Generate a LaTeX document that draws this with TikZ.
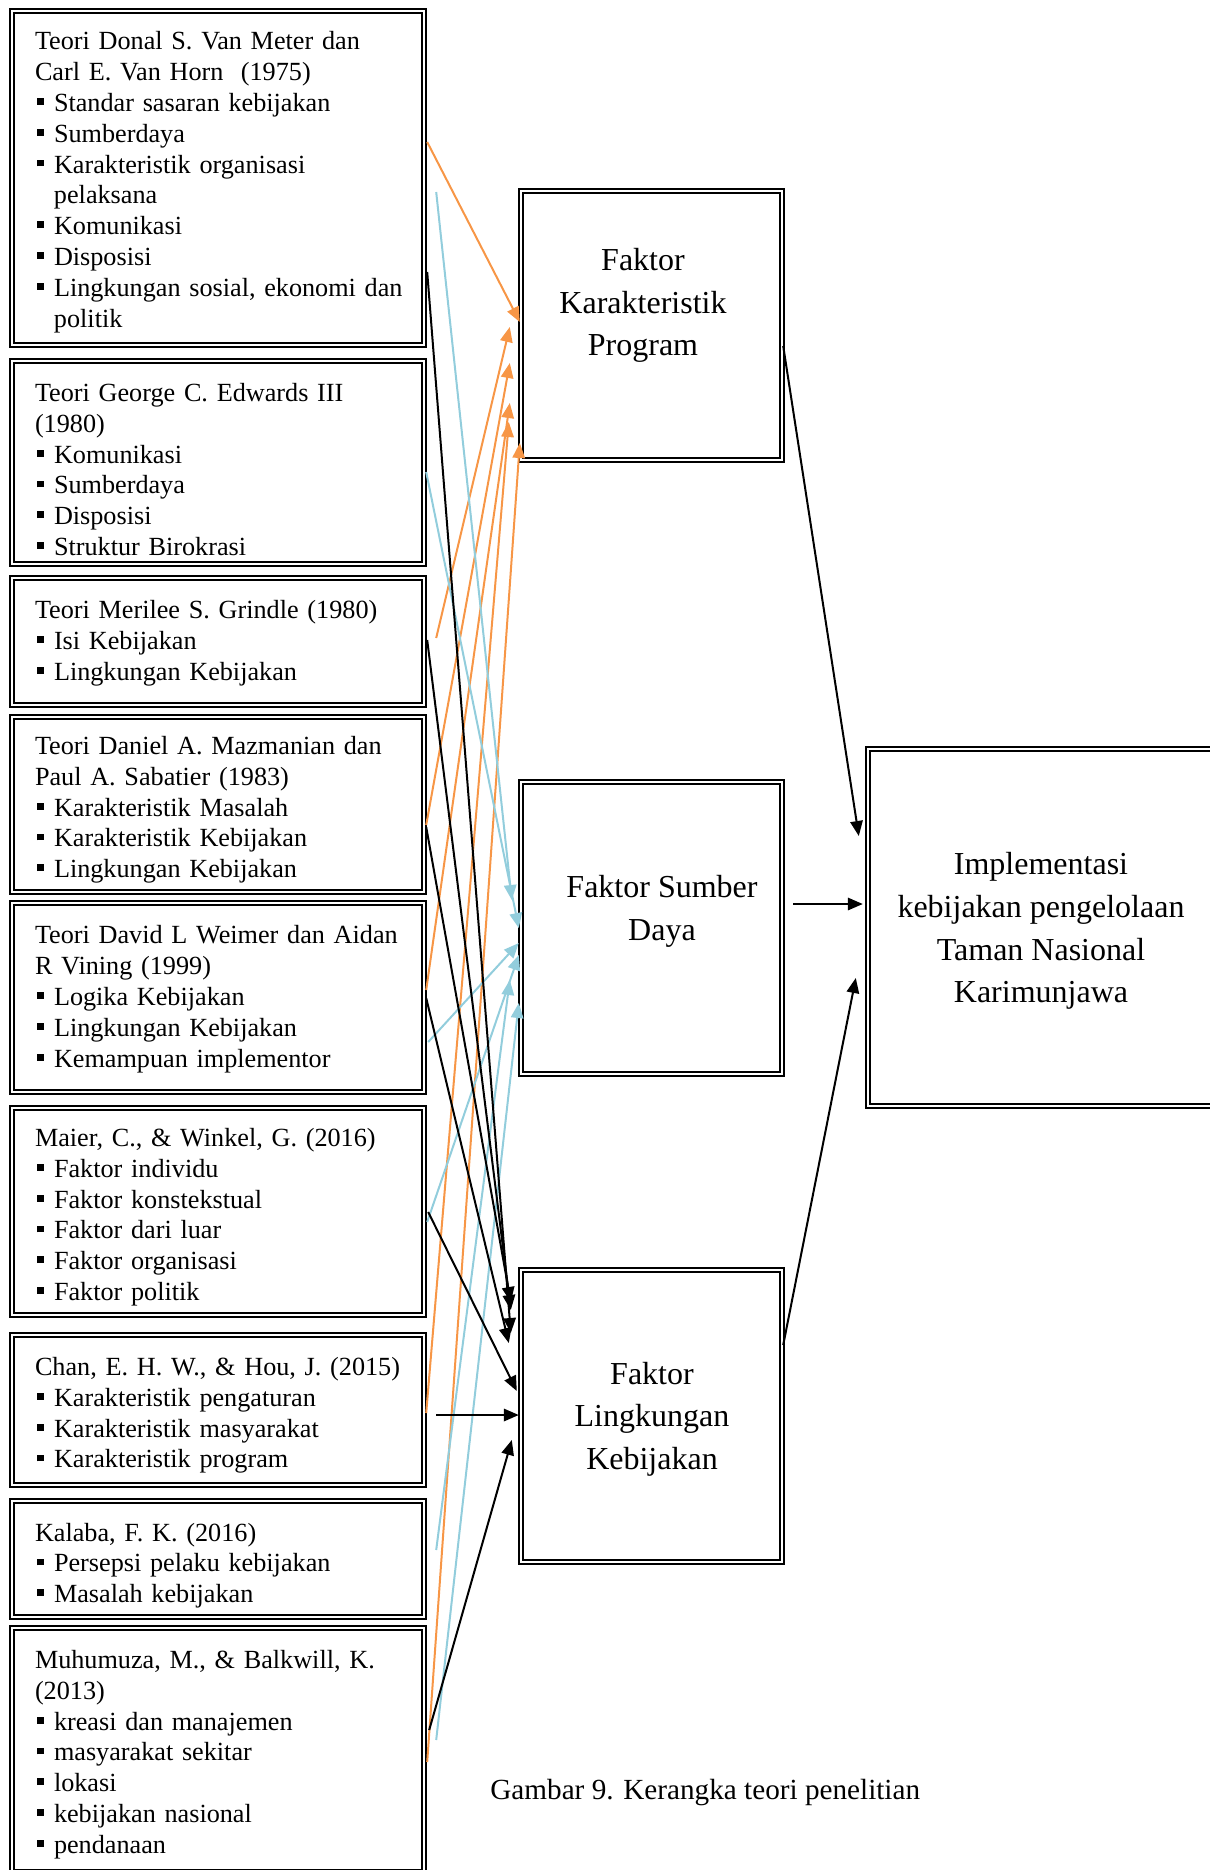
\documentclass[tikz,border=0pt]{standalone}
\usepackage{fontspec}
\setmainfont{Liberation Serif}
\usetikzlibrary{arrows.meta,calc}

\definecolor{conorange}{HTML}{F79646}
\definecolor{conblue}{HTML}{92CDDC}

% square bullet, item line, continuation line, justified line
\newcommand\bsq{\makebox[9.5pt][l]{\hspace*{1.2pt}\rule[3.3pt]{3.4pt}{3.4pt}}}
\newcommand\itm[1]{\mbox{\bsq#1}}
\newcommand\cnt[1]{\mbox{\hspace*{9.5pt}#1}}
\newcommand\jst[1]{\makebox[183.5pt][s]{#1}}

\tikzset{
  frame/.style={draw, double, double distance=0.8pt, line width=1.2pt, rectangle, inner sep=0pt},
  leftbox/.style={frame, minimum width=206pt},
  lefttext/.style={anchor=north west, text width=183.5pt, inner sep=0pt, align=left,
    font=\fontsize{13.1}{15.4}\selectfont},
  midbox/.style={frame, minimum width=130.5pt},
  midtext/.style={align=center, font=\fontsize{16}{21.3}\selectfont},
  link/.style={line width=1pt, -{Triangle[length=7.5pt,width=6.2pt]}},
}

\begin{document}
\begin{tikzpicture}[x=0.5pt,y=-0.5pt]
\path[use as bounding box] (0,0) rectangle (1210,1870);
\clip (0,0) rectangle (1210,1870);

% theory boxes
\node[leftbox, minimum height=167pt]   (b1) at (218,178) {};
\node[leftbox, minimum height=101.5pt] (b2) at (218,462.5) {};
\node[leftbox, minimum height=63.5pt]  (b3) at (218,641.5) {};
\node[leftbox, minimum height=87.5pt]  (b4) at (218,804.5) {};
\node[leftbox, minimum height=94.5pt]  (b5) at (218,997.5) {};
\node[leftbox, minimum height=103.5pt] (b6) at (218,1211.5) {};
\node[leftbox, minimum height=75pt]    (b7) at (218,1410) {};
\node[leftbox, minimum height=58pt]    (b8) at (218,1559) {};
\node[leftbox, minimum height=122pt]   (b9) at (218,1750) {};

% theory texts
\node[lefttext] (t1) at (34.6,27.9) {%
  \strut\mbox{Teori Donal S. Van Meter dan}\\
  \mbox{Carl E. Van Horn\ \ (1975)}\\
  \itm{Standar sasaran kebijakan}\\
  \itm{Sumberdaya}\\
  \itm{Karakteristik organisasi}\\
  \cnt{pelaksana}\\
  \itm{Komunikasi}\\
  \itm{Disposisi}\\
  \itm{Lingkungan sosial, ekonomi dan}\\
  \cnt{politik}\strut};
\node[lefttext] (t2) at (34.6,379.6) {%
  \strut\mbox{Teori George C. Edwards III}\\
  \mbox{(1980)}\\
  \itm{Komunikasi}\\
  \itm{Sumberdaya}\\
  \itm{Disposisi}\\
  \itm{Struktur Birokrasi}\strut};
\node[lefttext] (t3) at (34.6,596.6) {%
  \strut\mbox{Teori Merilee S. Grindle (1980)}\\
  \itm{Isi Kebijakan}\\
  \itm{Lingkungan Kebijakan}\strut};
\node[lefttext] (t4) at (34.6,732.6) {%
  \strut\mbox{Teori Daniel A. Mazmanian dan}\\
  \mbox{Paul A. Sabatier (1983)}\\
  \itm{Karakteristik Masalah}\\
  \itm{Karakteristik Kebijakan}\\
  \itm{Lingkungan Kebijakan}\strut};
\node[lefttext] (t5) at (34.6,922) {%
  \strut\jst{Teori David L Weimer dan Aidan}\\
  \mbox{R Vining (1999)}\\
  \itm{Logika Kebijakan}\\
  \itm{Lingkungan Kebijakan}\\
  \itm{Kemampuan implementor}\strut};
\node[lefttext] (t6) at (34.6,1124.6) {%
  \strut\mbox{Maier, C., \& Winkel, G. (2016)}\\
  \itm{Faktor individu}\\
  \itm{Faktor konstekstual}\\
  \itm{Faktor dari luar}\\
  \itm{Faktor organisasi}\\
  \itm{Faktor politik}\strut};
\node[lefttext] (t7) at (34.6,1353.6) {%
  \strut\mbox{Chan, E. H. W., \& Hou, J. (2015)}\\
  \itm{Karakteristik pengaturan}\\
  \itm{Karakteristik masyarakat}\\
  \itm{Karakteristik program}\strut};
\node[lefttext] (t8) at (34.6,1519.2) {%
  \strut\mbox{Kalaba, F. K. (2016)}\\
  \itm{Persepsi pelaku kebijakan}\\
  \itm{Masalah kebijakan}\strut};
\node[lefttext] (t9) at (34.6,1646.6) {%
  \strut\jst{Muhumuza, M., \& Balkwill, K.}\\
  \mbox{(2013)}\\
  \itm{kreasi dan manajemen}\\
  \itm{masyarakat sekitar}\\
  \itm{lokasi}\\
  \itm{kebijakan nasional}\\
  \itm{pendanaan}\strut};

% factor boxes and their labels
\node[midbox, minimum height=134.5pt] (fkp) at (651.5,325.5) {};
\node[midtext] (fkpt) at (643,305.5) {Faktor\\Karakteristik\\Program};
\node[midbox, minimum height=146pt] (fsd) at (651.5,928) {};
\node[midtext] (fsdt) at (662,911.5) {Faktor Sumber\\Daya};
\node[midbox, minimum height=146pt] (flk) at (651.5,1416) {};
\node[midtext] (flkt) at (652,1419) {Faktor\\Lingkungan\\Kebijakan};

% outcome box
\node[frame, minimum width=173pt, minimum height=178.5pt] (impl) at (1041,927.5) {};
\node[midtext] (implt) at (1041,931)
  {Implementasi\\kebijakan pengelolaan\\Taman Nasional\\Karimunjawa};

% caption
\node[anchor=base west, inner sep=0pt, font=\fontsize{14.6}{17}\selectfont] (cap) at (490,1799)
  {Gambar 9. Kerangka teori penelitian};

% links to Faktor Karakteristik Program
\foreach \s/\sy/\sx/\ty/\tx in {b1/142/2/322/0, b3/638/11/327/-10, b4/825/1/363/-10,
    b5/990/1/403/-10, b7/1413/1/422/-11, b9/1762/2/443/0}
  \draw[link, draw=conorange] ($(\s.east |- 0,\sy)+(\sx,0)$) -- ($(fkp.west |- 0,\ty)+(\tx,0)$);

% links to Faktor Sumber Daya
\foreach \s/\sy/\sx/\ty/\tx in {b1/192/11/900/-8, b2/472/1/928/-1, b5/1042/3/943/-1,
    b6/1222/2/955/-1, b8/1550/11/980/-10, b9/1740/11/1003/-1}
  \draw[link, draw=conblue] ($(\s.east |- 0,\sy)+(\sx,0)$) -- ($(fsd.west |- 0,\ty)+(\tx,0)$);

% links to Faktor Lingkungan Kebijakan
\foreach \s/\sy/\sx/\ty/\tx in {b1/272/2/1333/-9, b3/640/2/1310/-9, b4/827/1/1302/-9,
    b5/998/1/1343/-11, b6/1212/3/1391/-3, b7/1415/11/1415/-1, b9/1730/4/1440/-8}
  \draw[link] ($(\s.east |- 0,\sy)+(\sx,0)$) -- ($(flk.west |- 0,\ty)+(\tx,0)$);

% factors to implementation
\draw[link] ($(fkp.east |- 0,346)$) -- ($(impl.west |- 0,836)+(-8,0)$);
\draw[link] ($(fsd.east |- 0,904)+(10,0)$) -- ($(impl.west |- 0,904)+(-4,0)$);
\draw[link] ($(flk.east |- 0,1345)$) -- ($(impl.west |- 0,978)+(-11,0)$);
\end{tikzpicture}
\end{document}
